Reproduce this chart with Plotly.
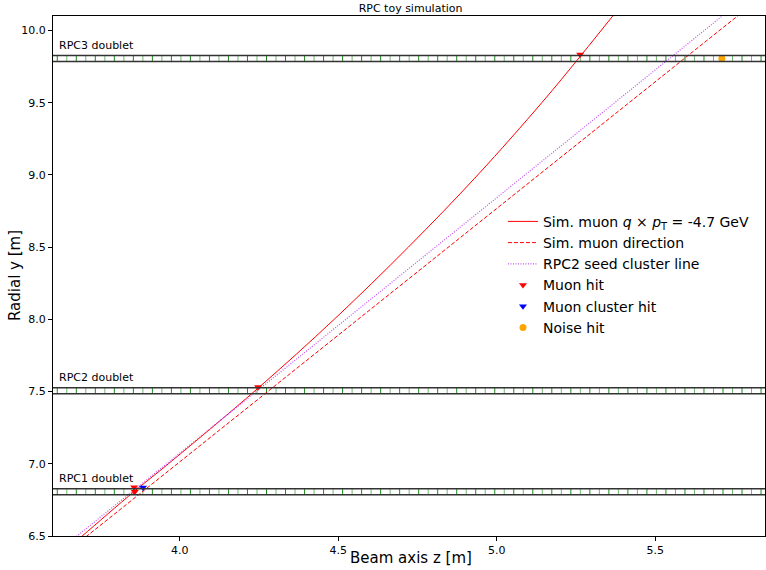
import numpy as np
import plotly.graph_objects as go

# ---------------- data ----------------
# simulated muon trajectory (solid)
traj_z = [3.638, 3.692, 3.857, 3.964, 4.245, 4.487, 4.721, 4.940, 5.142, 5.263, 5.402]
traj_y = [6.400, 6.500, 6.810, 7.000, 7.520, 8.000, 8.500, 9.000, 9.500, 9.820, 10.200]

# simulated muon direction (dashed straight line)
dir_z = [3.60, 5.85]
dir_y = [6.312, 10.259]

# RPC2 seed cluster line (dotted)
seed_z = [3.60, 5.85]
seed_y = [6.366, 10.346]

# hits
muon_hit_z = [3.856, 3.858, 4.247, 5.263]
muon_hit_y = [6.838, 6.806, 7.532, 9.833]
cluster_hit_z = [3.884]
cluster_hit_y = [6.836]
noise_hit_z = [5.710]
noise_hit_y = [9.806]

# RPC doublets
rpc_names = ["RPC1 doublet", "RPC2 doublet", "RPC3 doublet"]
rpc_centers = [6.806, 7.505, 9.806]
rpc_half_thickness = 0.021
strip_start = 3.6135
strip_pitch = 0.0300

x_range = [3.6, 5.846]
y_range = [6.5, 10.1]
x_ticks = [4.0, 4.5, 5.0, 5.5]
y_ticks = [6.5, 7.0, 7.5, 8.0, 8.5, 9.0, 9.5, 10.0]

FONT = "DejaVu Sans"

fig = go.Figure()

# strips (green vertical segments) inside each doublet, alternating shades
strip_pos = np.arange(strip_start, x_range[1], strip_pitch)
for shade, col in ((0, "#1e8c1e"), (1, "#72b872")):
    sx, sy = [], []
    for c in rpc_centers:
        for i, p in enumerate(strip_pos):
            if i % 2 != shade:
                continue
            sx += [p, p, None]
            sy += [c - rpc_half_thickness, c + rpc_half_thickness, None]
    fig.add_trace(go.Scatter(x=sx, y=sy, mode="lines",
                             line=dict(color=col, width=1),
                             hoverinfo="skip", showlegend=False))

shapes = []
annotations = []
for name, c in zip(rpc_names, rpc_centers):
    for yy in (c - rpc_half_thickness, c + rpc_half_thickness):
        shapes.append(dict(type="line", xref="x domain", yref="y",
                           x0=0, x1=1, y0=yy, y1=yy,
                           line=dict(color="#333333", width=1.5), layer="above"))
    annotations.append(dict(text=name, xref="x domain", yref="y",
                            x=0.006, y=c + rpc_half_thickness + 0.010,
                            xanchor="left", yanchor="bottom", showarrow=False,
                            font=dict(family=FONT, size=11, color="black")))

# axis titles as annotations for exact placement
annotations.append(dict(text="Beam axis z [m]", xref="paper", yref="paper",
                        x=0.503, y=-(558 - 536) / 520, xanchor="center", yanchor="middle",
                        showarrow=False, font=dict(family=FONT, size=15, color="black")))
annotations.append(dict(text="Radial y [m]", xref="paper", yref="paper",
                        x=-(53 - 15) / 712, y=0.5, xanchor="center", yanchor="middle",
                        textangle=-90, showarrow=False,
                        font=dict(family=FONT, size=15, color="black")))

fig.add_trace(go.Scatter(x=traj_z, y=traj_y, mode="lines", line_shape="spline",
                         line=dict(color="red", width=1),
                         name="Sim. muon <i>q</i> × <i>p</i><sub>T</sub> = -4.7 GeV"))
fig.add_trace(go.Scatter(x=dir_z, y=dir_y, mode="lines",
                         line=dict(color="#ff0000", width=1, dash="4px,2px"),
                         name="Sim. muon direction"))
fig.add_trace(go.Scatter(x=seed_z, y=seed_y, mode="lines",
                         line=dict(color="#c04ff0", width=1.2, dash="1px,1.5px"),
                         name="RPC2 seed cluster line"))
fig.add_trace(go.Scatter(x=muon_hit_z, y=muon_hit_y, mode="markers",
                         marker=dict(symbol="triangle-down", color="red", size=7),
                         name="Muon hit"))
fig.add_trace(go.Scatter(x=cluster_hit_z, y=cluster_hit_y, mode="markers",
                         marker=dict(symbol="triangle-down", color="blue", size=7),
                         name="Muon cluster hit"))
fig.add_trace(go.Scatter(x=noise_hit_z, y=noise_hit_y, mode="markers",
                         marker=dict(symbol="circle", color="orange", size=7),
                         name="Noise hit"))

axis_common = dict(showgrid=False, zeroline=False, showline=True, linecolor="black",
                   linewidth=1, mirror=True, ticks="outside", ticklen=4,
                   tickcolor="black", tickfont=dict(family=FONT, size=11, color="black"))

fig.update_layout(
    width=766, height=570,
    margin=dict(l=53, r=1, t=16, b=34),
    paper_bgcolor="white", plot_bgcolor="white",
    font=dict(family=FONT, color="black"),
    title=dict(text="RPC toy simulation", x=0.536, xanchor="center",
               y=1 - 8 / 570, yanchor="middle",
               font=dict(family=FONT, size=11, color="black")),
    xaxis=dict(range=x_range, tickvals=x_ticks, tickformat=".1f",
               automargin=False, **axis_common),
    yaxis=dict(range=y_range, tickvals=y_ticks, tickformat=".1f",
               automargin=False, **axis_common),
    legend=dict(x=0.632, y=0.635, xanchor="left", yanchor="top",
                font=dict(family=FONT, size=14, color="black"),
                bgcolor="rgba(255,255,255,0.8)", borderwidth=0,
                itemwidth=30, tracegroupgap=0),
    shapes=shapes, annotations=annotations,
)

fig.write_html("out.html")
